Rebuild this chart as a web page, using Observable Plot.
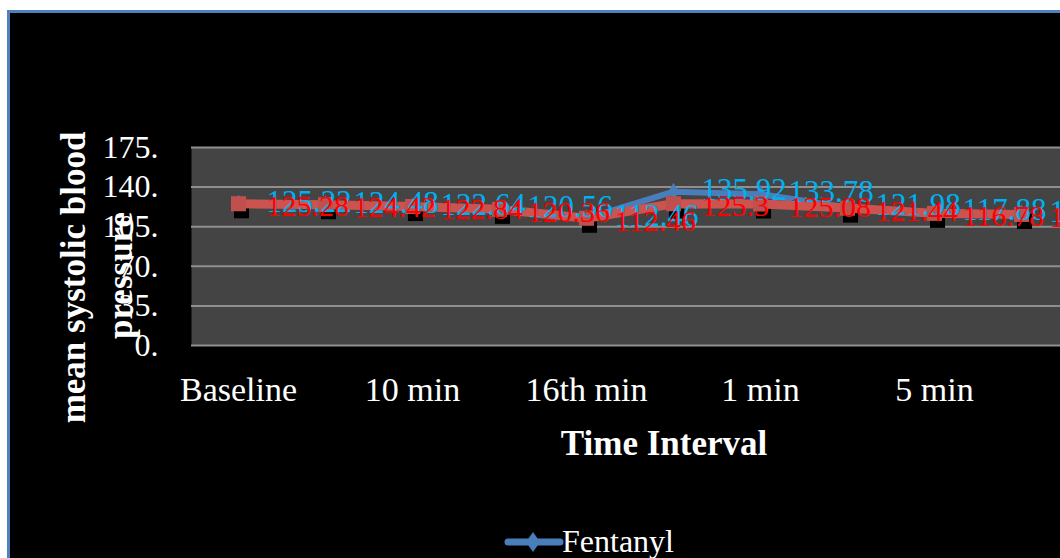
<!DOCTYPE html>
<html>
<head>
<meta charset="utf-8">
<script src="https://cdn.jsdelivr.net/npm/d3@7"></script>
<script src="https://cdn.jsdelivr.net/npm/@observablehq/plot@0.6"></script>
<style>
  html, body { margin: 0; padding: 0; background: #ffffff; overflow: hidden; width: 1060px; height: 558px; }
  #bg { position: absolute; left: 7px; top: 10px; width: 1100px; height: 600px; background: #000; border-left: 3px solid #4f81bd; border-top: 3px solid #4f81bd; }
  #chart { position: absolute; left: 0; top: 0; }
  #legend { position: absolute; left: 500px; top: 524px; }
</style>
</head>
<body>
<div id="bg"></div>
<div id="chart"></div>
<svg id="legend" width="220" height="34">
  <line x1="8" y1="18" x2="60" y2="18" stroke="#4a7ebb" stroke-width="7" stroke-linecap="round"></line>
  <path d="M33,8 L40,18 L33,28 L26,18 Z" fill="#4a7ebb"></path>
  <text x="62" y="28" fill="#ffffff" font-family="Liberation Serif" font-size="32">Fentanyl</text>
</svg>
<script>
// Time points (every other label is shown on the axis, as in the original)
const categories = ["Baseline", "5 min", "10 min", "15 min", "16th min", "Intubation", "1 min", "3 min", "5 min", "7 min"];
const shownTicks = [0, 2, 4, 6, 8];
// Mean systolic blood pressure values
const fentanyl = [125.22, 124.48, 122.64, 120.56, 112.46, 135.92, 133.78, 121.98, 117.88, 116.28];
const control  = [125.28, 124.42, 122.84, 120.36, 112.46, 125.3, 125.08, 121.44, 116.78, 115.84];
const yTicks = [0, 35, 70, 105, 140, 175];

const fentRows = fentanyl.map((v, i) => ({i, v}));
const ctrlRows = control.map((v, i) => ({i, v}));
const serif = "Liberation Serif, Times New Roman, serif";

const plot = Plot.plot({
  width: 1060,
  height: 558,
  marginLeft: 191,
  marginRight: 0,
  marginTop: 147,
  marginBottom: 213,
  style: {background: "transparent", color: "white", fontFamily: serif, overflow: "hidden"},
  x: {type: "point", domain: d3.range(categories.length), range: [191, 1068], padding: 0.5, align: 0.5, label: null},
  y: {domain: [0, 175], range: [345, 147], label: null},
  marks: [
    Plot.frame({fill: "#444444"}),
    Plot.ruleY(yTicks, {stroke: "#8f8f8f", strokeWidth: 2}),
    Plot.axisY({ticks: yTicks, tickFormat: d => `${d}.`, tickSize: 0, tickPadding: 33, fontSize: 32, fontFamily: serif, label: null}),
    Plot.axisX({ticks: shownTicks, tickFormat: i => categories[i], tickSize: 0, tickPadding: 31, fontSize: 34, fontFamily: serif, label: null}),
    Plot.lineY(fentRows, {x: "i", y: "v", stroke: "#4a7ebb", strokeWidth: 6}),
    Plot.dot(fentRows, {x: "i", y: "v", symbol: "diamond", r: 5.5, fill: "#4a7ebb"}),
    Plot.dot(ctrlRows, {x: "i", y: "v", symbol: "square", r: 8.5, fill: "#000000", dx: 3, dy: 7}),
    Plot.lineY(ctrlRows, {x: "i", y: "v", stroke: "#cc5450", strokeWidth: 9}),
    Plot.dot(ctrlRows, {x: "i", y: "v", symbol: "square", r: 8.5, fill: "#c0504d"}),
    Plot.text(fentRows, {x: "i", y: "v", text: d => String(d.v), dx: 28, dy: -2, textAnchor: "start", fill: "#00b0f0", fontSize: 31, fontFamily: serif}),
    Plot.text(ctrlRows, {x: "i", y: "v", text: d => String(d.v), dx: 28, dy: 3, textAnchor: "start", fill: "#ff0000", fontSize: 30, fontFamily: serif}),
    Plot.text(["mean systolic blood"], {text: d => d, frameAnchor: "left", textAnchor: "middle", dx: -118, dy: 31, rotate: -90, fontSize: 35, fontWeight: "bold", fontFamily: serif, fill: "white", lineAnchor: "middle"}),
    Plot.text(["pressure"], {text: d => d, frameAnchor: "left", textAnchor: "middle", dx: -71, dy: 29, rotate: -90, fontSize: 35, fontWeight: "bold", fontFamily: serif, fill: "white", lineAnchor: "middle"}),
    Plot.text(["Time Interval"], {text: d => d, frameAnchor: "bottom", dx: 38, dy: 98, fontSize: 35, fontWeight: "bold", fontFamily: serif, fill: "white", lineAnchor: "middle"})
  ]
});
document.getElementById("chart").appendChild(plot);
</script>
</body>
</html>
